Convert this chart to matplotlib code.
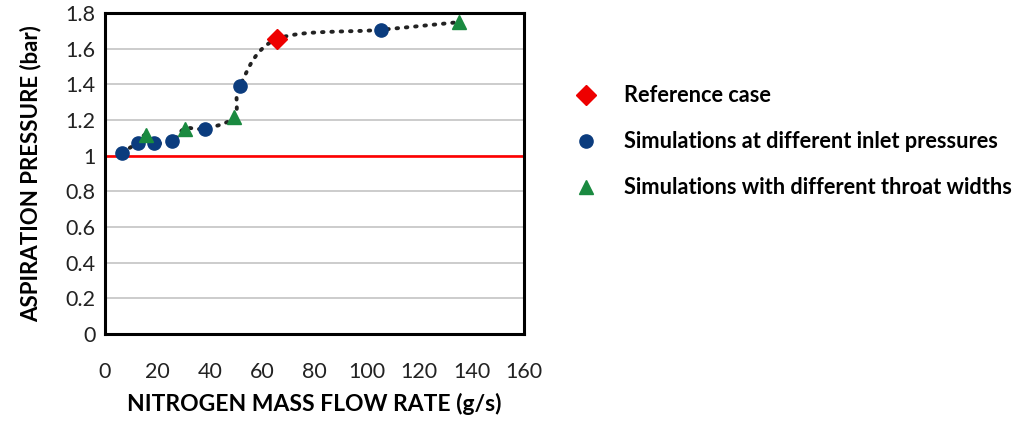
import matplotlib
matplotlib.use('Agg')
import matplotlib.pyplot as plt
import numpy as np

# nitrogen mass flow rate (g/s) and aspiration pressure (bar)
ref_flow = [65.8]
ref_pres = [1.655]

inlet_flow = [6.4, 12.5, 18.8, 25.7, 38.2, 51.5, 105.3]
inlet_pres = [1.017, 1.073, 1.073, 1.080, 1.152, 1.393, 1.706]

throat_flow = [15.5, 30.4, 49.4, 135.1]
throat_pres = [1.118, 1.152, 1.218, 1.749]

atm_pres = 1.0

xticks = [0, 20, 40, 60, 80, 100, 120, 140, 160]
yticks = [0, 0.2, 0.4, 0.6, 0.8, 1, 1.2, 1.4, 1.6, 1.8]
ytick_labels = ['0', '0.2', '0.4', '0.6', '0.8', '1', '1.2', '1.4', '1.6', '1.8']


def smooth(xs, ys, n=30, xr=160.0, yr=1.8):
    # catmull-rom through the points, in axis-normalised space
    p = np.column_stack([np.array(xs) / xr, np.array(ys) / yr])
    p = np.vstack([p[0] - (p[1] - p[0]), p, p[-1] + (p[-1] - p[-2])])
    out = []
    for i in range(1, len(p) - 2):
        p0, p1, p2, p3 = p[i - 1], p[i], p[i + 1], p[i + 2]
        t = np.linspace(0, 1, n)[:, None]
        seg = 0.5 * ((2 * p1) + (-p0 + p2) * t + (2 * p0 - 5 * p1 + 4 * p2 - p3) * t ** 2
                     + (-p0 + 3 * p1 - 3 * p2 + p3) * t ** 3)
        out.append(seg)
    out = np.vstack(out)
    return out[:, 0] * xr, out[:, 1] * yr


plt.rcParams['font.family'] = ['Lato', 'DejaVu Sans']

fig = plt.figure(figsize=(10.13, 4.21), dpi=100)
ax = fig.add_axes([0.1037, 0.2067, 0.4136, 0.7623])

all_x = ref_flow + inlet_flow + throat_flow
all_y = ref_pres + inlet_pres + throat_pres
order = np.argsort(all_x)
cx, cy = smooth([all_x[i] for i in order], [all_y[i] for i in order])
ax.plot(cx, cy, color='#222222', linestyle=(0, (0.4, 2.0)), linewidth=2.8,
        dash_capstyle='round', zorder=2)

ax.axhline(atm_pres, color='#ff0000', linewidth=1.9, zorder=2)

ax.plot(ref_flow, ref_pres, linestyle='none', marker='D', markersize=10.5,
        color='#ee0000', label='Reference case', zorder=4)
ax.plot(inlet_flow, inlet_pres, linestyle='none', marker='o', markersize=9.5,
        color='#0b3c7e', label='Simulations at different inlet pressures', zorder=3)
ax.plot(throat_flow, throat_pres, linestyle='none', marker='^', markersize=9.5,
        color='#1a8a40', label='Simulations with different throat widths', zorder=3)

ax.set_xlim(0, 160)
ax.set_ylim(0, 1.8)
ax.set_xticks(xticks)
ax.set_yticks(yticks)
ax.set_yticklabels(ytick_labels)
ax.yaxis.grid(True, color='#c8c8c8', linewidth=1.3)
ax.set_axisbelow(True)
ax.tick_params(axis='both', length=0, labelsize=15.5, colors='#222222')
ax.tick_params(axis='x', pad=20)
ax.tick_params(axis='y', pad=7)
for s in ax.spines.values():
    s.set_linewidth(2.2)
    s.set_color('black')
    s.set_zorder(5)

ax.set_xlabel('NITROGEN MASS FLOW RATE (g/s)', fontsize=16.5, fontweight='bold', labelpad=8)
ax.set_ylabel('ASPIRATION PRESSURE (bar)', fontsize=16, fontweight='bold', labelpad=17)

fig.legend(loc='upper left', bbox_to_anchor=(0.543, 0.844), frameon=False,
           prop={'weight': 'bold', 'size': 15.7}, labelspacing=1.15,
           handletextpad=1.0, handlelength=1.5)

fig.savefig('out.png', dpi=100)
